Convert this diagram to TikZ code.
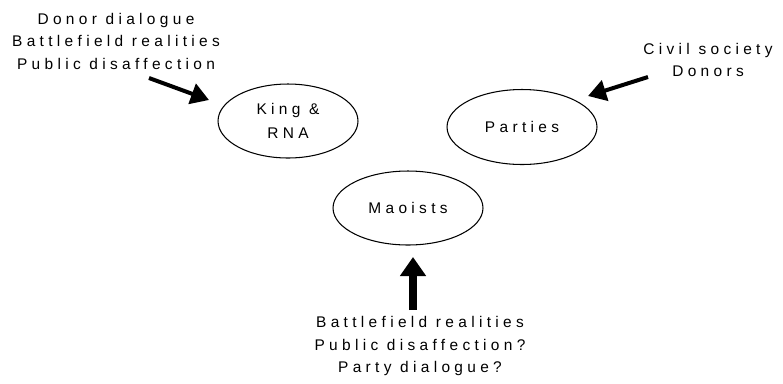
\documentclass[tikz,border=0pt]{standalone}
\usepackage{fontspec}
\setmainfont{Liberation Sans}[LetterSpace=28]
\usetikzlibrary{arrows.meta,shapes.geometric}

\begin{document}
\begin{tikzpicture}[x=0.02cm,y=-0.02cm]
\tikzset{
  actor/.style={ellipse, draw=black, line width=0.6pt, inner sep=0pt, align=center, font=\fontsize{8.8}{13.6}\selectfont},
  cue/.style={align=center, inner sep=0pt, font=\fontsize{8.8}{12.8}\selectfont},
  push/.style={line width=0.08cm, -{Triangle[length=0.36cm, width=0.42cm]}},
  bigpush/.style={line width=0.16cm, -{Triangle[length=0.38cm, width=0.5cm]}}
}
\useasboundingbox (0,0) rectangle (783,383);
% the three actors
\node[actor, minimum width=2.8cm, minimum height=1.48cm] (king) at (288,121) {King \&\\RNA};
\node[actor, minimum width=3.0cm, minimum height=1.5cm] (parties) at (522,127) {Parties};
\node[actor, minimum width=3.0cm, minimum height=1.48cm] (maoists) at (408,208) {Maoists};
% pressures on each
\node[cue] (kingcue) at (116,41) {Donor dialogue\\Battlefield realities\\Public disaffection};
\node[cue] (partycue) at (708,60) {Civil society\\Donors};
\node[cue] (maoistcue) at (420,346) {Battlefield realities\\Public disaffection?\\Party dialogue?};
\coordinate (kingfrom) at (149,78);
\coordinate (kingto) at (209,100);
\coordinate (partyfrom) at (648,77);
\coordinate (partyto) at (588,96);
\coordinate (maoistfrom) at (413,310);
\coordinate (maoistto) at (413,257);
\draw[push] (kingfrom) -- (kingto);
\draw[push] (partyfrom) -- (partyto);
\draw[bigpush] (maoistfrom) -- (maoistto);
\end{tikzpicture}
\end{document}
